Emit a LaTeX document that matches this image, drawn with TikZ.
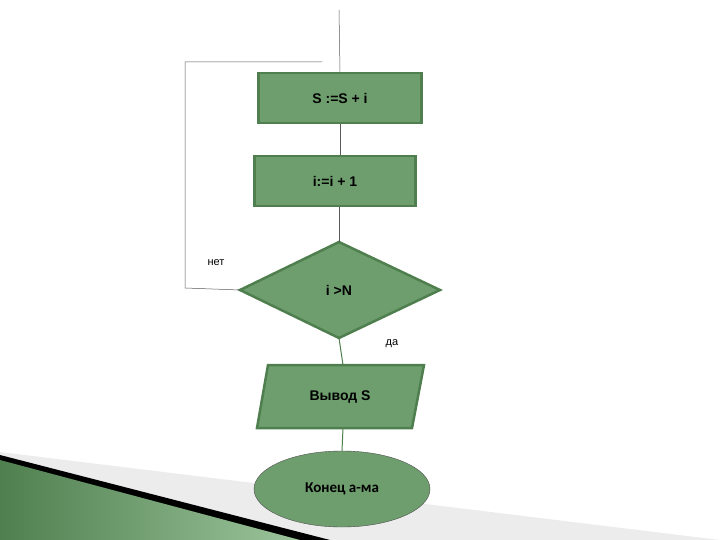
\documentclass[tikz,border=0pt]{standalone}
\usepackage{fontspec}
\setmainfont{Liberation Sans}
\newfontfamily\calib{Carlito}
\usetikzlibrary{shapes.geometric}
\definecolor{gfill}{HTML}{6E9E6E}
\definecolor{gdraw}{HTML}{4F7F4F}
\definecolor{lgreen}{HTML}{9CC49C}
\begin{document}
\begin{tikzpicture}[x=1pt,y=-1pt,
  blk/.style={fill=gfill,draw=gdraw,line width=2.5pt,font=\bfseries\fontsize{14}{16}\selectfont},
  conn/.style={draw=gray!70!black,line width=0.5pt},
  lbl/.style={font=\fontsize{11}{13}\selectfont}]
\useasboundingbox (0,0) rectangle (720,540);
% decoration
\fill[gray!15] (0,452) -- (720,540) -- (0,540) -- cycle;
\fill[black] (0,455) -- (330,540) -- (0,540) -- cycle;
\shade[left color=gdraw,right color=lgreen] (0,460) -- (300,540) -- (0,540) -- cycle;
% nodes
\coordinate (top) at (339,10);
\node[blk,minimum width=163pt,minimum height=50pt] (b1) at (340,98) {S :=S + i};
\node[blk,minimum width=161pt,minimum height=50pt] (b2) at (335,181) {i:=i + 1};
\draw[blk] (240,290) -- (339,242) -- (440,290) -- (339,338) -- cycle;
\node[font=\bfseries\fontsize{14}{16}\selectfont] (d) at (339,290) {i >N};
\coordinate (dT) at (339,242); \coordinate (dB) at (339,338); \coordinate (dL) at (240,290);
\draw[blk] (268,365) -- (424,365) -- (412,428) -- (257,428) -- cycle;
\node[font=\bfseries\fontsize{14}{16}\selectfont] (out) at (340,397) {Вывод S};
\coordinate (oT) at (343,365); \coordinate (oB) at (343,428);
\node[ellipse,fill=gfill,draw=black!70,line width=0.4pt,minimum width=176pt,minimum height=76pt,font=\calib\bfseries\fontsize{15}{17}\selectfont] (end) at (342,489) {Конец а-ма};
\coordinate (c1) at (185,288); \coordinate (c2) at (185,62); \coordinate (c3) at (322,62);
% connectors
\draw[conn] (top) -- (b1.north);
\draw[conn] (b1.south) -- (b2.north -| b1.south);
\draw[conn] (b2.south -| dT) -- (dT);
\draw[conn] (dL) -- (c1) -- (c2) -- (c3);
\draw[conn,draw=gdraw,line width=1pt] (dB) -- (oT);
\draw[conn,draw=gdraw,line width=1pt] (oB) -- (end.north);
\node[lbl] (no) at (216,263) {нет};
\node[lbl] (yes) at (392,344) {да};
\end{tikzpicture}
\end{document}
